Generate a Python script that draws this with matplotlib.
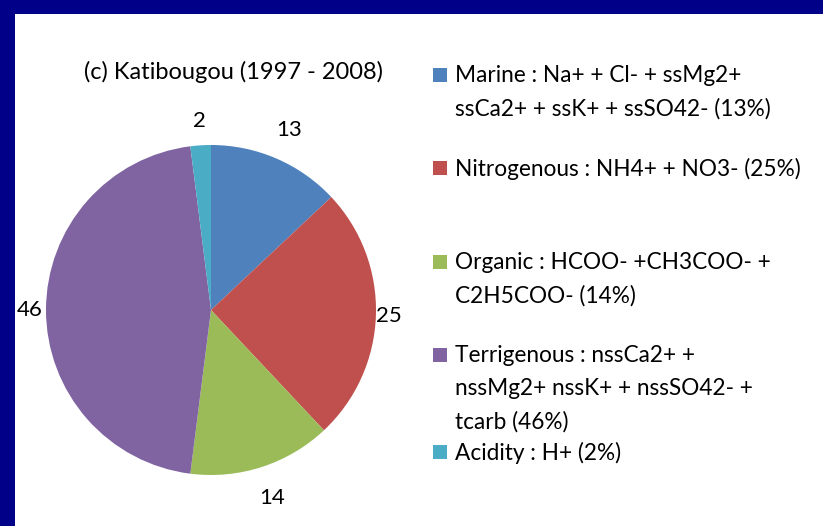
import matplotlib
matplotlib.use('Agg')
import matplotlib.pyplot as plt
from matplotlib.patches import Rectangle
import numpy as np

plt.rcParams['font.family'] = ['Lato', 'DejaVu Sans']

# data
title = '(c) Katibougou (1997 - 2008)'
values = [13, 25, 14, 46, 2]
colors = ['#4F81BD', '#C0504D', '#9BBB59', '#8064A2', '#4BACC6']
legend_labels = [
    'Marine : Na+ + Cl- + ssMg2+\nssCa2+ + ssK+ + ssSO42- (13%)',
    'Nitrogenous : NH4+ + NO3- (25%)',
    'Organic : HCOO- +CH3COO- +\nC2H5COO- (14%)',
    'Terrigenous : nssCa2+ +\nnssMg2+ nssK+ + nssSO42- +\ntcarb (46%)',
    'Acidity : H+ (2%)',
]

W, H = 823, 526
fig = plt.figure(figsize=(W / 100, H / 100), dpi=100)
fig.patch.set_facecolor('#000088')
fig.patches.append(Rectangle((15 / W, 0), 1 - 15 / W, 1 - 14 / H,
                             transform=fig.transFigure, facecolor='white',
                             edgecolor='none', zorder=-5))

# pie axes: center (211, 310) px, radius 165 px
cx, cy, r = 211, 310, 165
ax = fig.add_axes([(cx - r) / W, (H - cy - r) / H, 2 * r / W, 2 * r / H])
ax.set_facecolor('none')
wedges, _ = ax.pie(values, colors=colors, startangle=90, counterclock=False,
                   radius=1, wedgeprops=dict(linewidth=0))
ax.set_xlim(-1, 1)
ax.set_ylim(-1, 1)
ax.set_aspect('equal')
ax.axis('off')

# value labels outside the pie
label_dist = [1.19, 1.08, 1.2, 1.1, 1.15]
for w, v, d in zip(wedges, values, label_dist):
    ang = np.deg2rad((w.theta1 + w.theta2) / 2)
    ax.text(d * np.cos(ang), d * np.sin(ang), str(v), fontsize=16,
            ha='center', va='center', color='black', clip_on=False)

fig.text(233 / W, 1 - 72 / H, title, fontsize=17, ha='center', va='center')

# legend drawn by hand
leg_y = [75, 168, 262, 355, 452]
for lab, c, y in zip(legend_labels, colors, leg_y):
    fig.patches.append(Rectangle((433 / W, 1 - (y + 7) / H), 14 / W, 14 / H,
                                 transform=fig.transFigure, facecolor=c,
                                 edgecolor='none'))
    fig.text(455 / W, 1 - (y - 10) / H, lab, fontsize=16.3, ha='left', va='top',
             linespacing=1.7)

fig.savefig('out.png', dpi=100)
